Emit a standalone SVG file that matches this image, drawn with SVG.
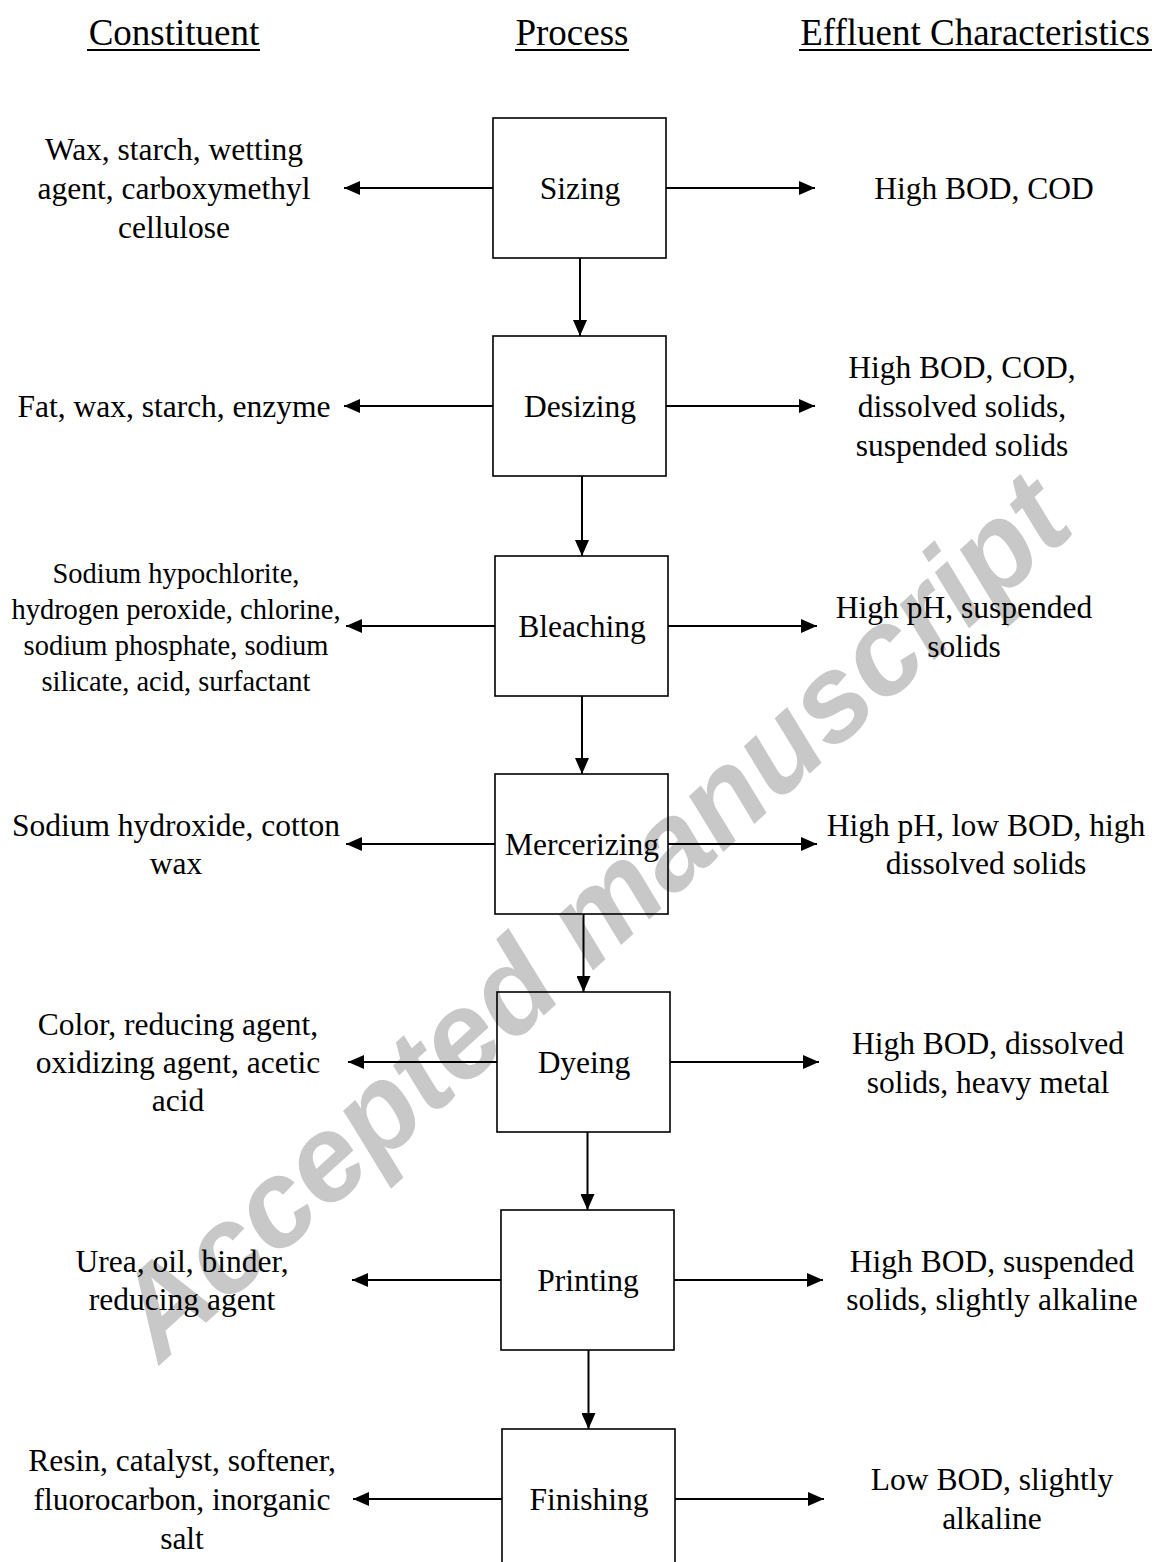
<svg xmlns="http://www.w3.org/2000/svg" width="1155" height="1562" viewBox="0 0 1155 1562">
<style>
  .t { font-family: "Liberation Serif", "Times New Roman", serif; font-size: 31.5px; fill: #000; text-anchor: middle; }
  .s { font-size: 28.5px; }
  .h { font-family: "Liberation Serif", "Times New Roman", serif; font-size: 37px; fill: #000; text-anchor: middle; }
  .box { fill: none; stroke: #000; stroke-width: 1.6; }
  .c { stroke: #000; stroke-width: 2; fill: none; marker-end: url(#ah); }
  .wm { font-family: "Liberation Sans", Arial, sans-serif; font-weight: bold; font-style: italic; font-size: 122px; fill: #c8c8c8; text-anchor: middle; }
</style>
<defs>
  <marker id="ah" markerUnits="userSpaceOnUse" markerWidth="17" markerHeight="14" refX="16" refY="7" orient="auto">
    <path d="M0,0 L16,7 L0,14 z" fill="#000"/>
  </marker>
</defs>
<rect width="1155" height="1562" fill="#fff"/>
<text class="wm" x="619" y="947" transform="rotate(-42.3 619 947)">Accepted manuscript</text>

<g id="headers">
  <text class="h" x="174" y="45">Constituent</text>
  <line x1="87" y1="50" x2="260" y2="50" stroke="#000" stroke-width="2"/>
  <text class="h" x="572" y="45">Process</text>
  <line x1="515" y1="50" x2="629" y2="50" stroke="#000" stroke-width="2"/>
  <text class="h" x="975" y="45">Effluent Characteristics</text>
  <line x1="799" y1="50" x2="1152" y2="50" stroke="#000" stroke-width="2"/>
</g>

<g id="sizing">
  <rect class="box" x="493" y="118" width="173" height="140"/>
  <text class="t" x="580" y="199">Sizing</text>
</g>
<g id="desizing">
  <rect class="box" x="493" y="336" width="173" height="140"/>
  <text class="t" x="580" y="417">Desizing</text>
</g>
<g id="bleaching">
  <rect class="box" x="495" y="556" width="173" height="140"/>
  <text class="t" x="582" y="637">Bleaching</text>
</g>
<g id="mercerizing">
  <rect class="box" x="495" y="774" width="173" height="140"/>
  <text class="t" x="582" y="855">Mercerizing</text>
</g>
<g id="dyeing">
  <rect class="box" x="497" y="992" width="173" height="140"/>
  <text class="t" x="584" y="1073">Dyeing</text>
</g>
<g id="printing">
  <rect class="box" x="501" y="1210" width="173" height="140"/>
  <text class="t" x="588" y="1291">Printing</text>
</g>
<g id="finishing">
  <rect class="box" x="502" y="1429" width="173" height="140"/>
  <text class="t" x="589" y="1510">Finishing</text>
</g>

<g id="constituents">
  <text class="t" x="174" y="160">Wax, starch, wetting</text>
  <text class="t" x="174" y="199">agent, carboxymethyl</text>
  <text class="t" x="174" y="238">cellulose</text>
  <text class="t" x="174" y="417">Fat, wax, starch, enzyme</text>
  <text class="t s" x="176" y="583">Sodium hypochlorite,</text>
  <text class="t s" x="176" y="619">hydrogen peroxide, chlorine,</text>
  <text class="t s" x="176" y="655">sodium phosphate, sodium</text>
  <text class="t s" x="176" y="691">silicate, acid, surfactant</text>
  <text class="t" x="176" y="836">Sodium hydroxide, cotton</text>
  <text class="t" x="176" y="874">wax</text>
  <text class="t" x="178" y="1035">Color, reducing agent,</text>
  <text class="t" x="178" y="1073">oxidizing agent, acetic</text>
  <text class="t" x="178" y="1111">acid</text>
  <text class="t" x="182" y="1272">Urea, oil, binder,</text>
  <text class="t" x="182" y="1310">reducing agent</text>
  <text class="t" x="182" y="1471">Resin, catalyst, softener,</text>
  <text class="t" x="182" y="1510">fluorocarbon, inorganic</text>
  <text class="t" x="182" y="1549">salt</text>
</g>

<g id="effluents">
  <text class="t" x="984" y="199">High BOD, COD</text>
  <text class="t" x="962" y="378">High BOD, COD,</text>
  <text class="t" x="962" y="417">dissolved solids,</text>
  <text class="t" x="962" y="456">suspended solids</text>
  <text class="t" x="964" y="618">High pH, suspended</text>
  <text class="t" x="964" y="657">solids</text>
  <text class="t" x="986" y="836">High pH, low BOD, high</text>
  <text class="t" x="986" y="874">dissolved solids</text>
  <text class="t" x="988" y="1054">High BOD, dissolved</text>
  <text class="t" x="988" y="1093">solids, heavy metal</text>
  <text class="t" x="992" y="1272">High BOD, suspended</text>
  <text class="t" x="992" y="1310">solids, slightly alkaline</text>
  <text class="t" x="992" y="1490">Low BOD, slightly</text>
  <text class="t" x="992" y="1529">alkaline</text>
</g>

<g id="connectors">
  <line class="c" x1="580" y1="258" x2="580" y2="336"/>
  <line class="c" x1="582" y1="476" x2="582" y2="556"/>
  <line class="c" x1="582" y1="696" x2="582" y2="774"/>
  <line class="c" x1="583.5" y1="914" x2="583.5" y2="992"/>
  <line class="c" x1="587.5" y1="1132" x2="587.5" y2="1210"/>
  <line class="c" x1="588.5" y1="1350" x2="588.5" y2="1429"/>

  <line class="c" x1="493" y1="188" x2="344" y2="188"/>
  <line class="c" x1="666" y1="188" x2="815" y2="188"/>
  <line class="c" x1="493" y1="406" x2="344" y2="406"/>
  <line class="c" x1="666" y1="406" x2="815" y2="406"/>
  <line class="c" x1="495" y1="626" x2="346" y2="626"/>
  <line class="c" x1="668" y1="626" x2="817" y2="626"/>
  <line class="c" x1="495" y1="844" x2="346" y2="844"/>
  <line class="c" x1="668" y1="844" x2="817" y2="844"/>
  <line class="c" x1="497" y1="1062" x2="348" y2="1062"/>
  <line class="c" x1="670" y1="1062" x2="819" y2="1062"/>
  <line class="c" x1="501" y1="1280" x2="352" y2="1280"/>
  <line class="c" x1="674" y1="1280" x2="823" y2="1280"/>
  <line class="c" x1="502" y1="1499" x2="353" y2="1499"/>
  <line class="c" x1="675" y1="1499" x2="824" y2="1499"/>
</g>
</svg>
